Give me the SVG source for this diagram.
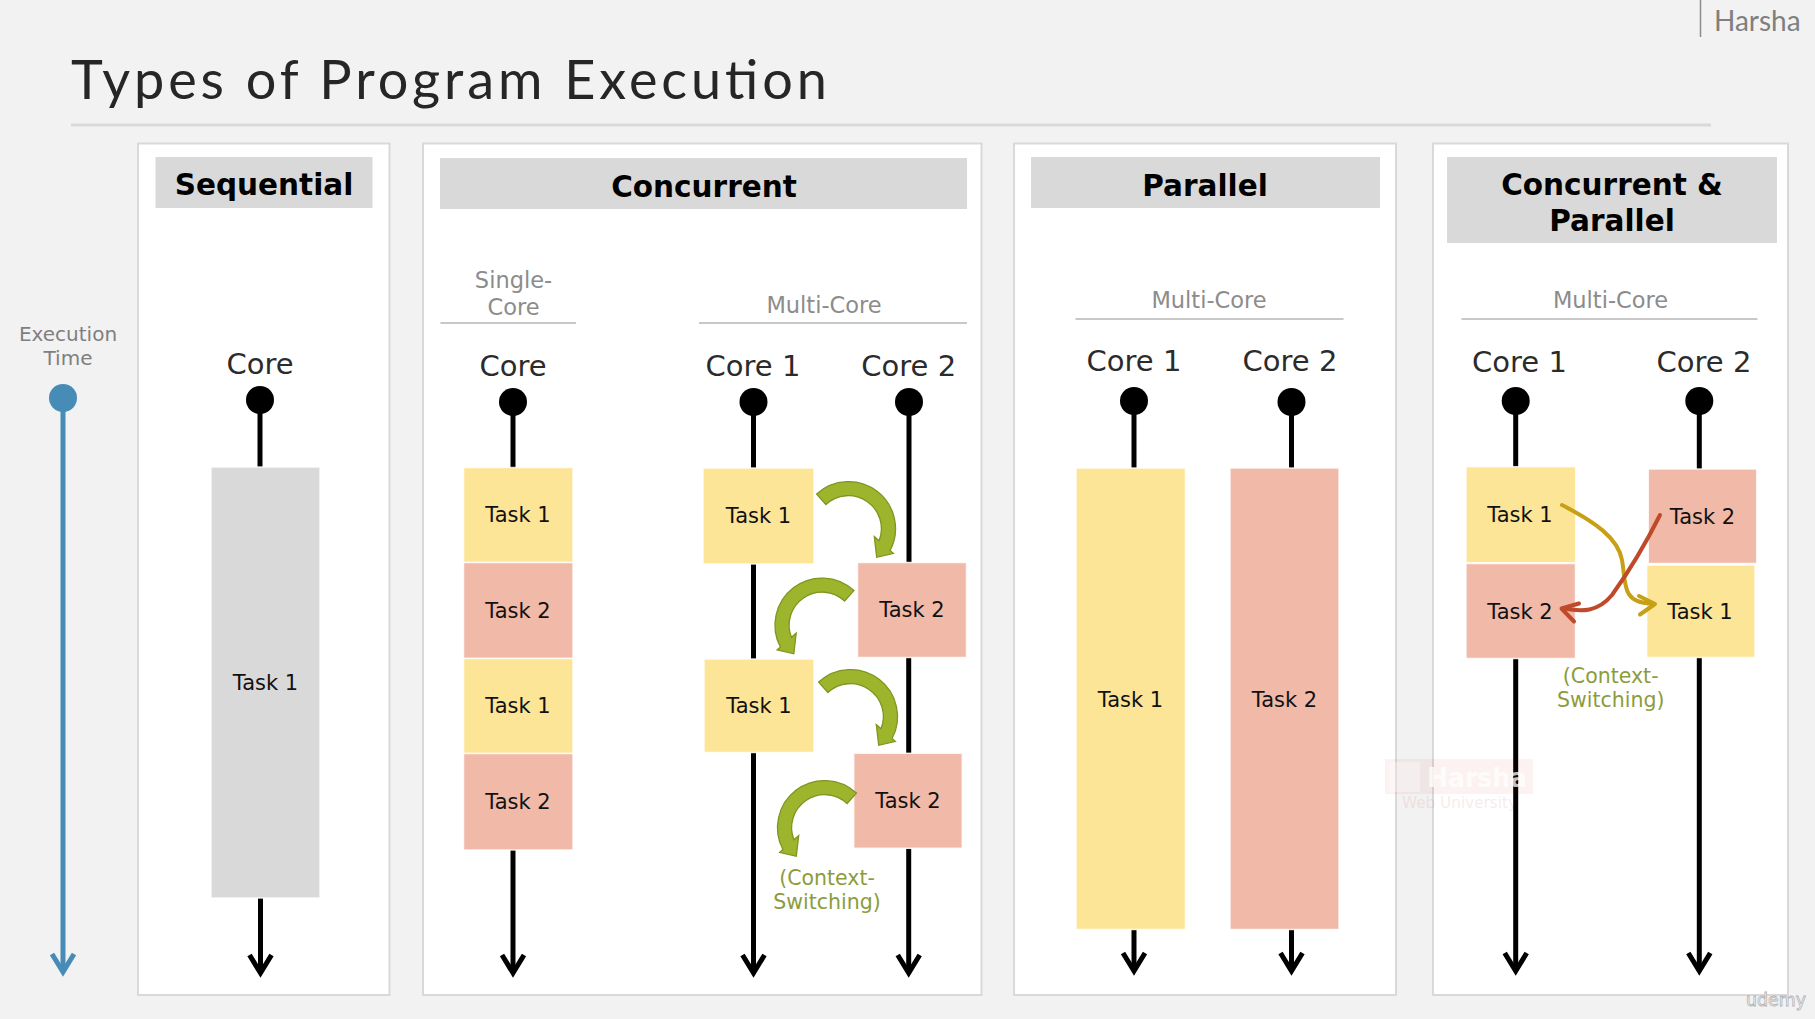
<svg xmlns="http://www.w3.org/2000/svg" width="1815" height="1019" viewBox="0 0 1815 1019">
  <style>
    .panel { fill: #ffffff; stroke: #d9d9d9; stroke-width: 2; }
    .head { fill: #d9d9d9; }
    .headtxt { font-family: "DejaVu Sans", Verdana, sans-serif; font-weight: bold; font-size: 29.5px; fill: #000; text-anchor: middle; }
    .sub { font-family: "DejaVu Sans", Verdana, sans-serif; font-size: 22.5px; fill: #8c8c8c; text-anchor: middle; }
    .axis { font-family: "DejaVu Sans", Verdana, sans-serif; font-size: 20px; fill: #7f7f7f; text-anchor: middle; }
    .subline { stroke: #c8c8c8; stroke-width: 2; }
    .core { font-family: "DejaVu Sans", Verdana, sans-serif; font-size: 29px; fill: #2b2b2b; text-anchor: middle; }
    .task { font-family: "DejaVu Sans", Verdana, sans-serif; font-size: 21px; fill: #111; text-anchor: middle; }
    .ctx { font-family: "DejaVu Sans", Verdana, sans-serif; font-size: 20.5px; fill: #8c9c3c; text-anchor: middle; }
    .y { fill: #fde598; stroke: #fff; stroke-width: 1.5; stroke-opacity: 0.8; }
    .p { fill: #f1b9a8; stroke: #fff; stroke-width: 1.5; stroke-opacity: 0.8; }
    .g { fill: #d9d9d9; stroke: #fff; stroke-width: 1.5; stroke-opacity: 0.8; }
    .tl { stroke: #000; stroke-width: 5; fill: none; }
    .dot { fill: #000; }
    .swap { fill: #9db52c; stroke: #7e961f; stroke-width: 1.3; }
  </style>
  <defs>
    <marker id="chev" markerUnits="userSpaceOnUse" orient="auto" refX="0" refY="0" markerWidth="40" markerHeight="40" viewBox="-25 -20 40 40" overflow="visible">
      <path d="M-18,-11 L0,0 L-18,11" fill="none" stroke="#000" stroke-width="5"/>
    </marker>
    <marker id="chevBlue" markerUnits="userSpaceOnUse" orient="auto" refX="0" refY="0" markerWidth="40" markerHeight="40" viewBox="-25 -20 40 40" overflow="visible">
      <path d="M-18,-11 L0,0 L-18,11" fill="none" stroke="#468cb6" stroke-width="5"/>
    </marker>
    <!-- curved context-switch arrow, drawn round its own circle centre -->
    <path id="swapArrow" d="M-31.4,-34.9 A47,47 0 0 1 42.1,21.5 L45.3,24.3 L28.7,28.3 L26.3,7.7 L31.05,11.85 A33,33 0 0 0 -22.1,-24.5 Z"/>
  </defs>

  <rect x="0" y="0" width="1815" height="1019" fill="#f2f2f2"/>

  <!-- title -->
  <g id="title">
    <text x="71" y="99" font-family="Lato, 'Open Sans', sans-serif" font-size="54" fill="#262626" textLength="756" lengthAdjust="spacing">Types of Program Execution</text>
    <line x1="71" y1="125" x2="1711" y2="125" stroke="#d9d9d9" stroke-width="3"/>
  </g>
  <g id="author">
    <line x1="1700.5" y1="0" x2="1700.5" y2="37" stroke="#8c8c8c" stroke-width="1.5"/>
    <text x="1714" y="31" font-family="Lato, 'Open Sans', sans-serif" font-size="28" fill="#7f7f7f">Harsha</text>
  </g>

  <!-- time axis -->
  <g id="time-axis">
    <text class="axis" x="68" y="340.5">Execution</text>
    <text class="axis" x="68" y="365">Time</text>
    <circle cx="63" cy="398" r="14" fill="#468cb6"/>
    <line x1="63" y1="398" x2="63" y2="972" stroke="#468cb6" stroke-width="5" marker-end="url(#chevBlue)"/>
  </g>

  <!-- panels -->
  <g id="panel-sequential">
    <rect class="panel" x="138" y="143.5" width="251.5" height="851.5"/>
    <rect class="head" x="155.5" y="157" width="217" height="51"/>
    <text class="headtxt" x="264" y="195">Sequential</text>
  </g>
  <g id="panel-concurrent">
    <rect class="panel" x="423" y="143.5" width="558.5" height="851.5"/>
    <rect class="head" x="440" y="158" width="527" height="51"/>
    <text class="headtxt" x="704" y="197">Concurrent</text>
    <text class="sub" x="513.5" y="288">Single-</text>
    <text class="sub" x="513.5" y="315">Core</text>
    <line class="subline" x1="440.5" y1="323" x2="576" y2="323"/>
    <text class="sub" x="824" y="313">Multi-Core</text>
    <line class="subline" x1="699" y1="323" x2="967" y2="323"/>
  </g>
  <g id="panel-parallel">
    <rect class="panel" x="1014" y="143.5" width="382" height="851.5"/>
    <rect class="head" x="1031" y="157" width="349" height="51"/>
    <text class="headtxt" x="1205" y="196">Parallel</text>
    <text class="sub" x="1209" y="308">Multi-Core</text>
    <line class="subline" x1="1075.5" y1="319" x2="1343.5" y2="319"/>
  </g>
  <g id="panel-concurrent-parallel">
    <rect class="panel" x="1433" y="143.5" width="355" height="851.5"/>
    <rect class="head" x="1447" y="157" width="330" height="86"/>
    <text class="headtxt" x="1612" y="194.5">Concurrent &amp;</text>
    <text class="headtxt" x="1612" y="230.5">Parallel</text>
    <text class="sub" x="1610.5" y="307.5">Multi-Core</text>
    <line class="subline" x1="1461.5" y1="319" x2="1757.5" y2="319"/>
  </g>

  <!-- core timelines -->
  <g id="connectors">
    <!-- sequential -->
    <line class="tl" x1="260" y1="400" x2="260" y2="467"/>
    <line class="tl" x1="260.5" y1="898" x2="260.5" y2="973" marker-end="url(#chev)"/>
    <!-- concurrent, single core -->
    <line class="tl" x1="513" y1="402" x2="513" y2="468"/>
    <line class="tl" x1="513" y1="850" x2="513" y2="973" marker-end="url(#chev)"/>
    <!-- concurrent, multi core -->
    <line class="tl" x1="753.5" y1="402" x2="753.5" y2="468"/>
    <line class="tl" x1="753.5" y1="564" x2="753.5" y2="659"/>
    <line class="tl" x1="753.5" y1="752.5" x2="753.5" y2="973" marker-end="url(#chev)"/>
    <line class="tl" x1="909" y1="402" x2="909" y2="562.5"/>
    <line class="tl" x1="908.7" y1="657.5" x2="908.7" y2="753.5"/>
    <line class="tl" x1="908.7" y1="848.5" x2="908.7" y2="973" marker-end="url(#chev)"/>
    <!-- parallel -->
    <line class="tl" x1="1134" y1="401" x2="1134" y2="468"/>
    <line class="tl" x1="1134" y1="929.5" x2="1134" y2="971" marker-end="url(#chev)"/>
    <line class="tl" x1="1291.5" y1="402" x2="1291.5" y2="468"/>
    <line class="tl" x1="1291.5" y1="929.5" x2="1291.5" y2="971" marker-end="url(#chev)"/>
    <!-- concurrent & parallel -->
    <line class="tl" x1="1515.7" y1="401" x2="1515.7" y2="467"/>
    <line class="tl" x1="1515.7" y1="658.5" x2="1515.7" y2="971" marker-end="url(#chev)"/>
    <line class="tl" x1="1699.3" y1="401" x2="1699.3" y2="469"/>
    <line class="tl" x1="1699.3" y1="657.5" x2="1699.3" y2="971" marker-end="url(#chev)"/>
  </g>

  <!-- cores -->
  <g id="core-sequential">
    <text class="core" x="260" y="374">Core</text>
    <circle class="dot" cx="260" cy="400" r="14"/>
  </g>
  <g id="core-single">
    <text class="core" x="513" y="376">Core</text>
    <circle class="dot" cx="513" cy="402" r="14"/>
  </g>
  <g id="core-multi-1">
    <text class="core" x="753" y="376">Core 1</text>
    <circle class="dot" cx="753.5" cy="402" r="14"/>
  </g>
  <g id="core-multi-2">
    <text class="core" x="908.7" y="376">Core 2</text>
    <circle class="dot" cx="909" cy="402" r="14"/>
  </g>
  <g id="core-parallel-1">
    <text class="core" x="1134" y="371">Core 1</text>
    <circle class="dot" cx="1134" cy="401" r="14"/>
  </g>
  <g id="core-parallel-2">
    <text class="core" x="1290" y="371">Core 2</text>
    <circle class="dot" cx="1291.5" cy="402" r="14"/>
  </g>
  <g id="core-cp-1">
    <text class="core" x="1519.5" y="372">Core 1</text>
    <circle class="dot" cx="1515.7" cy="401" r="14"/>
  </g>
  <g id="core-cp-2">
    <text class="core" x="1704" y="372">Core 2</text>
    <circle class="dot" cx="1699.3" cy="401" r="14"/>
  </g>

  <!-- tasks: sequential -->
  <g id="seq-task1">
    <rect class="g" x="211" y="467" width="109" height="431"/>
    <text class="task" x="265.5" y="690">Task 1</text>
  </g>

  <!-- tasks: concurrent single core -->
  <g id="sc-task1-a">
    <rect class="y" x="463.5" y="467.5" width="109.5" height="95"/>
    <text class="task" x="518" y="522">Task 1</text>
  </g>
  <g id="sc-task2-a">
    <rect class="p" x="463.5" y="562.5" width="109.5" height="96"/>
    <text class="task" x="518" y="618">Task 2</text>
  </g>
  <g id="sc-task1-b">
    <rect class="y" x="463.5" y="658.5" width="109.5" height="95"/>
    <text class="task" x="518" y="713">Task 1</text>
  </g>
  <g id="sc-task2-b">
    <rect class="p" x="463.5" y="753.5" width="109.5" height="96.5"/>
    <text class="task" x="518" y="809">Task 2</text>
  </g>

  <!-- tasks: concurrent multi core -->
  <g id="mc-task1-a">
    <rect class="y" x="703" y="468" width="111" height="96"/>
    <text class="task" x="758.5" y="523">Task 1</text>
  </g>
  <g id="mc-task2-a">
    <rect class="p" x="857.5" y="562.5" width="109" height="95"/>
    <text class="task" x="912" y="617">Task 2</text>
  </g>
  <g id="mc-task1-b">
    <rect class="y" x="704" y="659" width="110" height="93.5"/>
    <text class="task" x="759" y="713">Task 1</text>
  </g>
  <g id="mc-task2-b">
    <rect class="p" x="853.7" y="753.3" width="108.6" height="95"/>
    <text class="task" x="908" y="808">Task 2</text>
  </g>

  <!-- context switches between the two cores -->
  <g id="mc-switches">
    <use href="#swapArrow" class="swap" transform="translate(848,529)"/>
    <use href="#swapArrow" class="swap" transform="translate(822.5,625.5) scale(-1,1)"/>
    <use href="#swapArrow" class="swap" transform="translate(850,717)"/>
    <use href="#swapArrow" class="swap" transform="translate(825,828) scale(-1,1)"/>
    <text class="ctx" x="827" y="885">(Context-</text>
    <text class="ctx" x="827" y="908.5">Switching)</text>
  </g>

  <!-- tasks: parallel -->
  <g id="par-task1">
    <rect class="y" x="1076" y="468" width="109.5" height="461.5"/>
    <text class="task" x="1130.5" y="707">Task 1</text>
  </g>
  <g id="par-task2">
    <rect class="p" x="1230" y="468" width="109" height="461.5"/>
    <text class="task" x="1284.5" y="707">Task 2</text>
  </g>

  <!-- tasks: concurrent & parallel -->
  <g id="cp-c1-task1">
    <rect class="y" x="1466" y="466.7" width="109.7" height="96"/>
    <text class="task" x="1520" y="521.5">Task 1</text>
  </g>
  <g id="cp-c1-task2">
    <rect class="p" x="1466" y="563.5" width="109.5" height="95"/>
    <text class="task" x="1520" y="619">Task 2</text>
  </g>
  <g id="cp-c2-task2">
    <rect class="p" x="1648.3" y="469" width="108.4" height="94.5"/>
    <text class="task" x="1702.5" y="524">Task 2</text>
  </g>
  <g id="cp-c2-task1">
    <rect class="y" x="1646.7" y="565" width="108.3" height="92.5"/>
    <text class="task" x="1700" y="619">Task 1</text>
  </g>

  <!-- crossing swaps -->
  <g id="cp-switches">
    <path d="M1562,505 C1595,522 1618,538 1622,560 C1626,582 1621,603 1651,603.5" fill="none" stroke="#c8a016" stroke-width="4" stroke-linecap="round"/>
    <path d="M1639,596 L1655,604 L1640,614.5" fill="none" stroke="#c8a016" stroke-width="4" stroke-linecap="round" stroke-linejoin="round"/>
    <path d="M1660,515 C1645,545 1630,570 1612,595 C1598,612 1582,612 1564,608.5" fill="none" stroke="#bf4a2a" stroke-width="4" stroke-linecap="round"/>
    <path d="M1579,603.5 L1561.5,608.5 L1574,621.5" fill="none" stroke="#bf4a2a" stroke-width="4" stroke-linecap="round" stroke-linejoin="round"/>
    <text class="ctx" x="1610.7" y="682.7">(Context-</text>
    <text class="ctx" x="1610.7" y="706.7">Switching)</text>
  </g>

  <!-- faint brand marks -->
  <g id="brand-marks">
    <rect x="1385" y="759" width="148" height="35" fill="#c00000" opacity="0.05"/>
    <rect x="1389" y="762" width="31" height="30" fill="#ffffff" opacity="0.35"/>
    <text x="1427" y="787" font-family="'DejaVu Sans', sans-serif" font-weight="bold" font-size="27" fill="#ffffff" opacity="0.75" textLength="100" lengthAdjust="spacingAndGlyphs">Harsha</text>
    <text x="1402" y="808" font-family="'DejaVu Sans', sans-serif" font-size="16" fill="#c00000" opacity="0.08" textLength="115" lengthAdjust="spacingAndGlyphs">Web University</text>
    <text x="1746" y="1006" font-family="'DejaVu Sans', sans-serif" font-size="18" fill="#ffffff" stroke="#b0b0b0" stroke-width="0.8" textLength="60" lengthAdjust="spacingAndGlyphs">udemy</text>
  </g>
</svg>
